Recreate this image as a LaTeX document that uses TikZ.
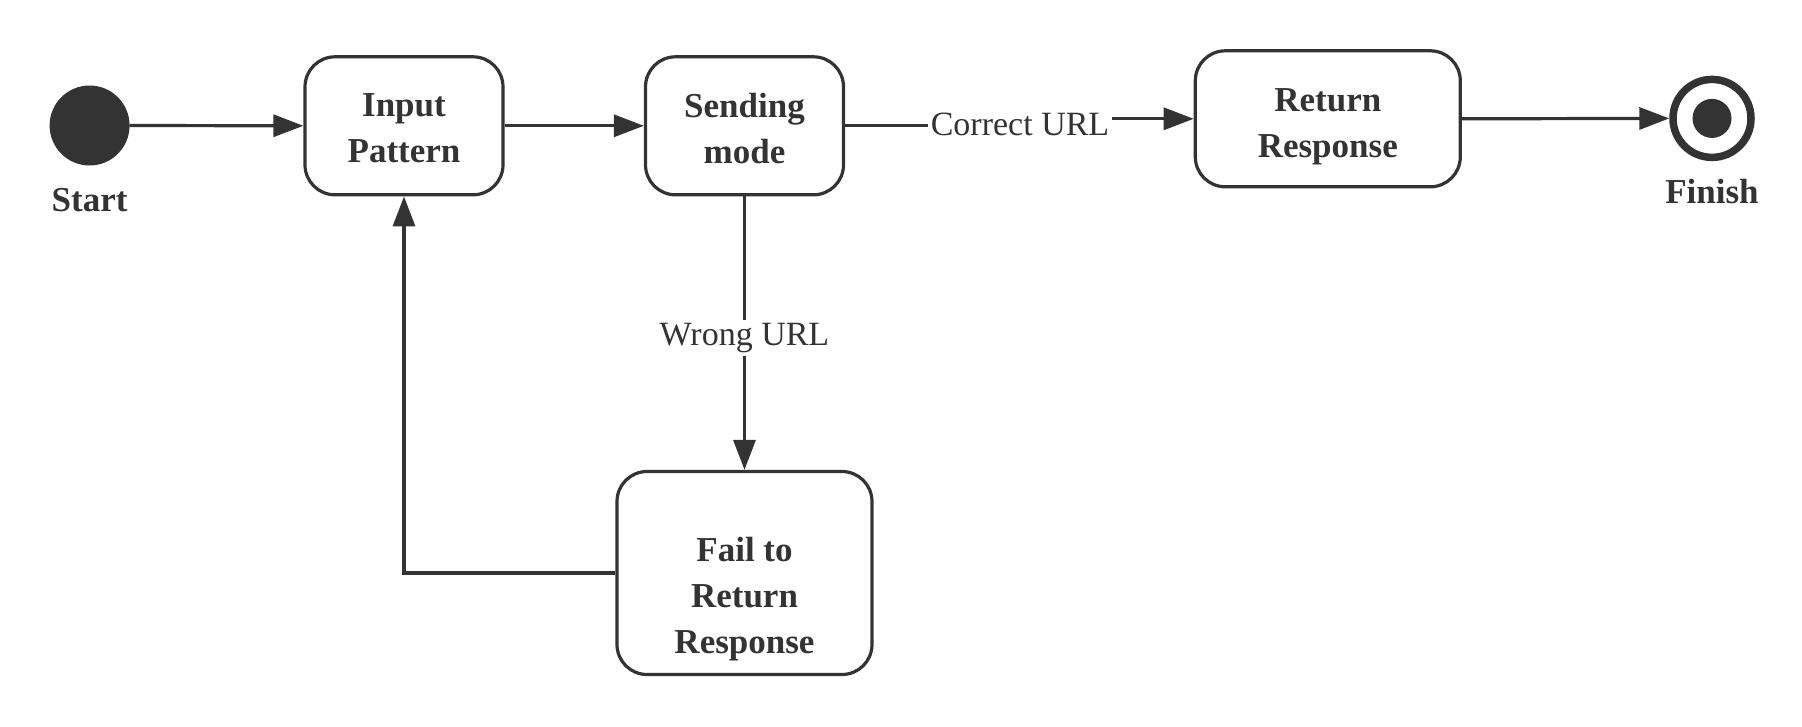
\documentclass[tikz,border=0pt]{standalone}
\usepackage{fontspec}
\setmainfont{Liberation Serif}
\usetikzlibrary{arrows.meta}
\definecolor{ink}{HTML}{333333}
\tikzset{
  box/.style={draw=ink, line width=3.2pt, rounded corners=30pt, inner sep=0pt},
  boxtext/.style={inner sep=0pt, align=center, text=ink, font=\bfseries\fontsize{35}{46}\selectfont},
  statelbl/.style={inner sep=0pt, text=ink, font=\bfseries\fontsize{35}{42}\selectfont},
  lbl/.style={fill=white, inner sep=3pt, text=ink, font=\fontsize{34}{40}\selectfont},
  arr/.style={draw=ink, line width=3.2pt, -{Triangle[length=30pt,width=22pt]}},
}
\begin{document}
\begin{tikzpicture}[x=1pt,y=-1pt]
\useasboundingbox (0,0) rectangle (1802,726);
% states
\node[fill=ink, circle, minimum size=80pt, inner sep=0pt, outer sep=0pt] (start) at (89.6,125.5) {};
\node[statelbl] (startlbl) at (89.6,200) {Start};
\node[box, minimum width=198pt, minimum height=138pt] (inp) at (404,125.8) {};
\node[boxtext] (inptxt) at (404,128.5) {Input\\Pattern};
\node[box, minimum width=198pt, minimum height=138pt] (send) at (744.5,125.8) {};
\node[boxtext] (sendtxt) at (744.5,128.5) {Sending\\mode};
\node[box, minimum width=265pt, minimum height=136pt] (ret) at (1327.8,118.8) {};
\node[boxtext] (rettxt) at (1327.8,126.5) {Return\\Response};
\node[box, minimum width=255pt, minimum height=203pt] (fail) at (744.5,573) {};
\node[boxtext] (failtxt) at (744.5,599) {Fail to\\Return\\Response};
\node[draw=ink, circle, line width=7.5pt, minimum size=78pt, inner sep=0pt] (fin) at (1712,118.4) {};
\node[fill=ink, circle, minimum size=39pt, inner sep=0pt] (findot) at (fin.center) {};
\node[statelbl] (finlbl) at (1712,192) {Finish};
\coordinate (cj) at (1020,124);
\coordinate (wj) at (744.5,338);
% connectors
\draw[arr] (start.east) -- (inp.west);
\draw[arr] (inp.east) -- (send.west);
\draw[arr] (send.east) -| (cj) node[lbl] {Correct URL} |- (ret.west);
\draw[arr] (ret.east) -- (fin.west);
\draw[arr] (send.south) -- (wj) node[lbl] {Wrong URL} -- (fail.north);
\draw[arr] (fail.west) -| (inp.south);
\end{tikzpicture}
\end{document}
